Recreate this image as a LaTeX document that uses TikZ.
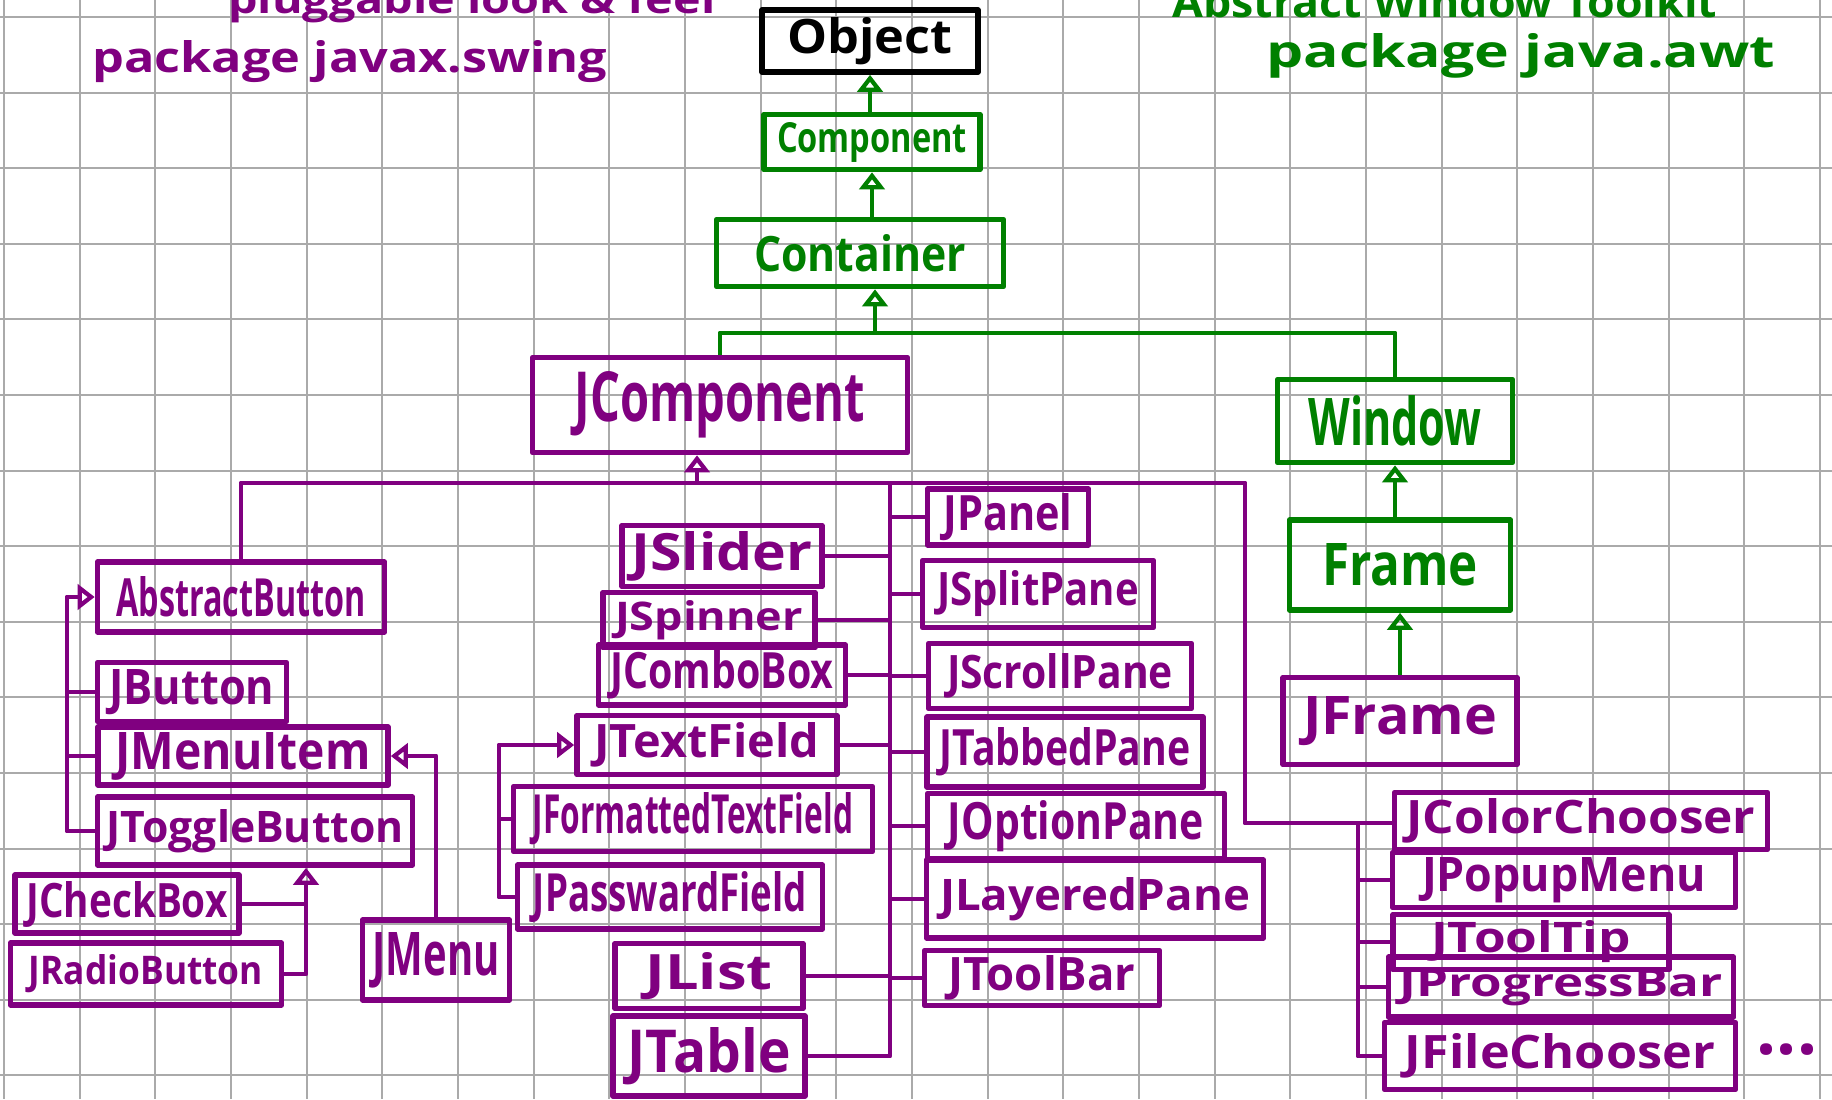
\documentclass[tikz,border=0pt]{standalone}
\usepackage{fontspec}
\setmainfont{Open Sans}
\usepackage{graphicx}
\usetikzlibrary{arrows.meta,calc}
\newlength\pxu \setlength\pxu{0.02cm}
\newcommand\tx[3]{\resizebox{#1\pxu}{#2\pxu}{\bfseries #3}}
\definecolor{pur}{RGB}{128,0,128}
\definecolor{grn}{RGB}{0,128,0}
\definecolor{gridc}{RGB}{170,170,170}
\begin{document}
\begin{tikzpicture}[x=0.02cm,y=-0.02cm,
  bx/.style 2 args={minimum width=#1*0.02cm, minimum height=#2*0.02cm},
  cbox/.style={draw, line width=3.2pt, inner sep=0pt, line join=round},
  pbox/.style={cbox, draw=pur, text=pur},
  gbox/.style={cbox, draw=grn, text=grn},
  kbox/.style={cbox, draw=black, text=black},
  pl/.style={draw=pur, line width=2.8pt, line join=round},
  gl/.style={draw=grn, line width=2.8pt, line join=round},
  tri/.style={-{Triangle[open,length=0.34cm,width=0.5cm]}},
  ttl/.style={anchor=base west, inner sep=0pt}
]
\fill[white] (0,0) rectangle (1832,1099);
\clip (0,0) rectangle (1832,1099);
\foreach \i in {0,...,24} \draw[gridc, line width=1.1pt] ({4+75.67*\i},0) -- ({4+75.67*\i},1099);
\foreach \j in {0,...,14} \draw[gridc, line width=1.1pt] (0,{17+75.6*\j}) -- (1832,{17+75.6*\j});

% titles
\node[ttl, text=pur] (plaf) at (228,13) {\tx{487}{30}{pluggable look \& feel}};
\node[ttl, text=pur] (swing) at (92,72) {\tx{515}{32}{package javax.swing}};
\node[ttl, text=grn] (awtname) at (1172,17) {\tx{545}{32}{Abstract Window Toolkit}};
\node[ttl, text=grn] (awt) at (1266,67) {\tx{509}{34}{package java.awt}};

% AWT classes
\node[kbox, bx={216}{62}] (obj) at (870,41) {\tx{165}{36}{Object}};
\node[gbox, bx={216}{55}] (comp) at (872,142) {\tx{190}{30}{Component}};
\node[gbox, bx={287}{67}] (cont) at (860,253) {\tx{212}{37}{Container}};
\node[gbox, bx={235}{83}] (win) at (1395,421) {\tx{173}{50}{Window}};
\node[gbox, bx={221}{90}] (frame) at (1400,565) {\tx{156}{42}{Frame}};

% Swing classes
\node[pbox, bx={375}{95}] (jcomp) at (720,405) {\tx{290}{50}{JComponent}};
\node[pbox, bx={234}{87}] (jframe) at (1400,721) {\tx{194}{38}{JFrame}};
\node[pbox, bx={287}{70}] (absb) at (241,597) {\tx{249}{40}{AbstractButton}};
\node[pbox, bx={189}{59}] (jbutton) at (192,692) {\tx{165}{35}{JButton}};
\node[pbox, bx={290}{58}] (jmenuitem) at (243,756) {\tx{255}{37}{JMenuItem}};
\node[pbox, bx={315}{68}] (jtoggle) at (255,831) {\tx{297}{33}{JToggleButton}};
\node[pbox, bx={224}{58}] (jcheck) at (127,904) {\tx{201}{36}{JCheckBox}};
\node[pbox, bx={271}{62}] (jradio) at (146,974) {\tx{234}{30}{JRadioButton}};
\node[pbox, bx={147}{80}] (jmenu) at (436,960) {\tx{127}{43}{JMenu}};
\node[pbox, bx={200}{61}] (jslider) at (722,556) {\tx{181}{39}{JSlider}};
\node[pbox, bx={212}{55}] (jspinner) at (709,620) {\tx{188}{30}{JSpinner}};
\node[pbox, bx={247}{60}] (jcombo) at (722,675) {\tx{223}{38}{JComboBox}};
\node[pbox, bx={260}{59}] (jtext) at (707,745) {\tx{225}{35}{JTextField}};
\node[pbox, bx={359}{65}] (jform) at (693,819) {\tx{320}{41}{JFormattedTextField}};
\node[pbox, bx={305}{64}] (jpass) at (670,897) {\tx{274}{40}{JPasswardField}};
\node[pbox, bx={188}{65}] (jlist) at (709,976) {\tx{127}{37}{JList}};
\node[pbox, bx={192}{80}] (jtable) at (709,1056) {\tx{163}{45}{JTable}};
\node[pbox, bx={161}{56}] (jpanel) at (1008,517) {\tx{129}{37}{JPanel}};
\node[pbox, bx={231}{67}] (jsplit) at (1038,594) {\tx{202}{35}{JSplitPane}};
\node[pbox, bx={263}{65}] (jscroll) at (1060,676) {\tx{226}{35}{JScrollPane}};
\node[pbox, bx={276}{70}] (jtabbed) at (1065,752) {\tx{251}{38}{JTabbedPane}};
\node[pbox, bx={297}{65}] (joption) at (1076,826) {\tx{256}{39}{JOptionPane}};
\node[pbox, bx={337}{78}] (jlayered) at (1095,899) {\tx{310}{33}{JLayeredPane}};
\node[pbox, bx={235}{55}] (jtoolbar) at (1042,978) {\tx{187}{35}{JToolBar}};
\node[pbox, bx={373}{57}] (jcolor) at (1581,821) {\tx{349}{35}{JColorChooser}};
\node[pbox, bx={343}{55}] (jpopup) at (1564,880) {\tx{284}{34}{JPopupMenu}};
\node[pbox, bx={276}{55}] (jtooltip) at (1531,942) {\tx{200}{32}{JToolTip}};
\node[pbox, bx={345}{60}] (jprogress) at (1561,987) {\tx{323}{28}{JProgressBar}};
\node[pbox, bx={351}{67}] (jfile) at (1560,1056) {\tx{310}{35}{JFileChooser}};
\node[text=pur, inner sep=0pt, font=\fontsize{40}{40}\selectfont\bfseries] (dots) at (1787,1050) {...};

% green connectors
\coordinate (gbus) at (875,333);
\draw[gl,tri] (comp.north -| obj.south) -- (obj.south);
\draw[gl,tri] (cont.north -| comp.south) -- (comp.south);
\draw[gl,tri] (gbus) -- (gbus |- cont.south);
\draw[gl] (jcomp.north) |- (gbus) -| (win.north);
\draw[gl,tri] (frame.north -| win.south) -- (win.south);
\draw[gl,tri] (jframe.north) -- (frame.south);

% purple connectors
\coordinate (pbus) at (697,483);
\coordinate (tt) at (890,483);
\coordinate (rc) at (1245,823);
\draw[pl,tri] (pbus) -- (pbus |- jcomp.south);
\draw[pl] (absb.north) |- (pbus) -| (rc) -- (rc -| jcolor.west);
\draw[pl] (tt) |- (jtable.east);
\foreach \n in {jslider,jspinner,jcombo,jtext,jlist} \draw[pl] (\n.east) -- (\n.east -| tt);
\foreach \n in {jpanel,jsplit,jscroll,jtabbed,joption,jlayered,jtoolbar} \draw[pl] (\n.west) -- (\n.west -| tt);

\coordinate (abx) at (67,0);
\draw[pl,tri] (jtoggle.west) -- (jtoggle.west -| abx) |- (absb.west);
\foreach \n in {jbutton,jmenuitem} \draw[pl] (\n.west) -- (\n.west -| abx);

\coordinate (tgx) at (306,0);
\draw[pl,tri] (jradio.east) -| (tgx |- jtoggle.south);
\draw[pl] (jcheck.east) -- (jcheck.east -| tgx);

\draw[pl,tri] (jmenu.north) |- (jmenuitem.east);

\coordinate (tfx) at (499,0);
\draw[pl,tri] (jpass.west) -- (jpass.west -| tfx) |- (jtext.west);
\draw[pl] (jform.west) -- (jform.west -| tfx);

\coordinate (ccx) at (1358,0);
\draw[pl] (ccx |- rc) |- (jfile.west);
\foreach \n in {jpopup,jtooltip,jprogress} \draw[pl] (\n.west) -- (\n.west -| ccx);
\end{tikzpicture}
\end{document}
